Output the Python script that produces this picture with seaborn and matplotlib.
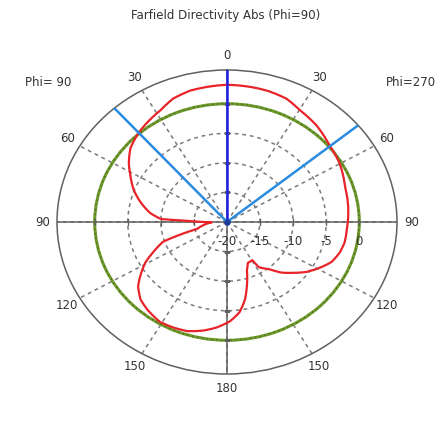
import numpy as np
import matplotlib
matplotlib.use("Agg")
import matplotlib.pyplot as plt
import seaborn as sns
import pandas as pd

# Farfield directivity cut (Phi=90), theta in degrees clockwise from top, value in dBi
theta_deg = [0, 10, 16, 23.4, 30, 39.7, 50, 59.7, 71.7, 78.5, 92, 101.3, 107, 113.1,
             119, 125, 131, 136, 141, 147.9, 149.3, 155.4, 159.6, 164.6, 168.3, 173,
             178.5, 185, 191, 198, 204.5, 211, 219, 225, 231, 235.7, 241, 245.6, 251,
             255.4, 269, 271.9, 272.9, 277.4, 284.4, 291, 297.4, 304, 310.5, 318,
             324.4, 332, 338.7, 346, 360]
directivity_db = [3.2, 3.1, 3.0, 2.7, 1.9, 1.2, 0.2, -0.3, -1.2, -1.4, -1.8, -1.9, -2.2, -2.8,
                  -4.0, -5.3, -6.9, -8.1, -9.7, -11.0, -12.5, -12.4, -11.4, -8.7, -6.6, -4.6,
                  -3.2, -2.1, -1.3, -0.6, -0.4, -0.3, -0.9, -1.5, -2.7, -4.2, -5.9, -7.8, -9.8,
                  -15.3, -17.7, -14.0, -10.0, -8.3, -6.5, -4.9, -3.6, -2.1, -0.8, 0.1,
                  0.7, 1.4, 2.4, 2.9, 3.2]

main_lobe_deg = 0
beam_edges_deg = [318.5, 50.5]      # 3 dB angular width
ref_level_db = 0.0                  # green reference circle

r_min, r_max = -20, 5.7
r_ticks = [-20, -15, -10, -5, 0]
theta_ticks = list(range(0, 360, 30))
theta_labels = ["0", "30", "60", "90", "120", "150", "180", "150", "120", "90", "60", "30"]

text_col = "#333333"
grid_col = "#7a7a7a"

sns.set_style("white")
plt.rcParams["font.family"] = ["DejaVu Sans"]

fig = plt.figure(figsize=(4.43, 4.26), dpi=100)
ax = fig.add_axes([57 / 443, 52 / 426, 340 / 443, 304 / 426], projection="polar")
ax.set_aspect("auto")
ax.set_theta_zero_location("N")
ax.set_theta_direction(-1)
ax.set_ylim(r_min, r_max)

# grid
ax.set_xticks(np.deg2rad(theta_ticks))
ax.set_xticklabels(theta_labels, fontsize=8.5, color=text_col)
ax.tick_params(axis="x", pad=0)
ax.set_yticks(r_ticks[1:])
ax.set_yticklabels([])
ax.grid(True, color=grid_col, linestyle=(0, (2.5, 2.5)), linewidth=1.1)
ax.spines["polar"].set_color("#606060")
ax.spines["polar"].set_linewidth(1.1)

# reference circle
ax.axhline(ref_level_db, color="#6e9a2c", linewidth=2.2, zorder=2)
ax.axhline(ref_level_db, color="#4d6b20", linewidth=1.0, linestyle=(0, (1, 2.5)), zorder=3)

# solid cross through the centre
for a in [0, 90, 180, 270]:
    ax.plot([np.deg2rad(a)] * 2, [r_min, r_max], color="#606060", linewidth=1.1, zorder=2)
    ax.plot([np.deg2rad(a)] * 4, r_ticks[1:], linestyle="none",
            marker="|" if a in (90, 270) else "_", markersize=5, color="#606060", zorder=2)

# pattern
df = pd.DataFrame({"theta": np.deg2rad(theta_deg), "dB": directivity_db})
sns.lineplot(data=df, x="theta", y="dB", sort=False, ax=ax, color="#e8242a",
             linewidth=1.6, zorder=5)
ax.lines[-1].get_path()._interpolation_steps = 20
ax.set_xlabel("")
ax.set_ylabel("")

# main lobe direction and 3 dB width
ax.plot([np.deg2rad(main_lobe_deg)] * 2, [r_min, r_max], color="#2020e8", linewidth=1.8, zorder=6)
for b in beam_edges_deg:
    ax.plot([np.deg2rad(b)] * 2, [r_min, r_max], color="#2a8be0", linewidth=1.8, zorder=6)
ax.plot([0], [r_min], marker="o", markersize=3.5, color="#1a3a9a", zorder=7)

# radial labels below the horizontal axis
for v in r_ticks:
    ax.annotate(str(v), xy=(np.deg2rad(90), v), xytext=(0, -14), textcoords="offset points",
                ha="center", va="center", fontsize=8.5, color=text_col)

fig.text(226 / 443, 1 - 16 / 426, "Farfield Directivity Abs (Phi=90)", ha="center",
         va="center", fontsize=8.5, color=text_col)
fig.text(48 / 443, 1 - 83 / 426, "Phi= 90", ha="center", va="center", fontsize=8.5, color=text_col)
fig.text(411 / 443, 1 - 83 / 426, "Phi=270", ha="center", va="center", fontsize=8.5, color=text_col)

fig.savefig("out.png", dpi=100)
